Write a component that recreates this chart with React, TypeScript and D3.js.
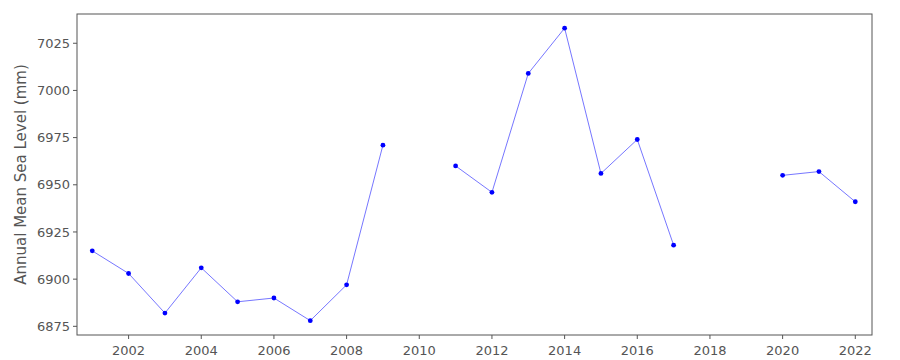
import React from "react";
import * as d3 from "d3";

const years: number[] = [2001, 2002, 2003, 2004, 2005, 2006, 2007, 2008, 2009, 2010, 2011, 2012, 2013, 2014, 2015, 2016, 2017, 2018, 2019, 2020, 2021, 2022];
const seaLevel: (number | null)[] = [6915, 6903, 6882, 6906, 6888, 6890, 6878, 6897, 6971, null, 6960, 6946, 7009, 7033, 6956, 6974, 6918, null, null, 6955, 6957, 6941];
const xTicks: number[] = [2002, 2004, 2006, 2008, 2010, 2012, 2014, 2016, 2018, 2020, 2022];
const yTicks: number[] = [6875, 6900, 6925, 6950, 6975, 7000, 7025];
const yLabel = "Annual Mean Sea Level (mm)";

export default function App() {
  const W = 900, H = 360;
  const left = 77, right = 872, top = 14, bottom = 335;
  const x = d3.scaleLinear().domain([2000.58, 2022.46]).range([left, right]);
  const y = d3.scaleLinear().domain([6870.4, 7040.5]).range([bottom, top]);
  const data = years.map((yr, i) => ({ yr, v: seaLevel[i] }));
  const line = d3
    .line<{ yr: number; v: number | null }>()
    .defined((d) => d.v !== null)
    .x((d) => x(d.yr))
    .y((d) => y(d.v as number));
  const font = "'DejaVu Sans', sans-serif";
  const textColor = "#555";
  return (
    <svg width={W} height={H} style={{ position: "absolute", left: 0, top: 0 }} fontFamily={font}>
      <rect x={0} y={0} width={W} height={H} fill="#fff" />
      <path d={line(data) || ""} fill="none" stroke="#6666ff" strokeWidth={0.9} />
      {data.filter((d) => d.v !== null).map((d) => (
        <circle key={d.yr} cx={x(d.yr)} cy={y(d.v as number)} r={2.4} fill="#0000ff" />
      ))}
      <rect x={left} y={top} width={right - left} height={bottom - top} fill="none" stroke="#555" strokeWidth={1} />
      {yTicks.map((t) => (
        <g key={t}>
          <line x1={left - 4} x2={left} y1={y(t)} y2={y(t)} stroke="#555" />
          <text x={left - 7} y={y(t)} dy="0.35em" textAnchor="end" fontSize={13} fill={textColor}>
            {t}
          </text>
        </g>
      ))}
      {xTicks.map((t) => (
        <g key={t}>
          <line x1={x(t)} x2={x(t)} y1={bottom} y2={bottom + 4} stroke="#555" />
          <text x={x(t)} y={bottom + 20} textAnchor="middle" fontSize={13} fill={textColor}>
            {t}
          </text>
        </g>
      ))}
      <text
        transform={`translate(26, ${(top + bottom) / 2}) rotate(-90)`}
        textAnchor="middle"
        fontSize={15}
        fill={textColor}
      >
        {yLabel}
      </text>
    </svg>
  );
}
